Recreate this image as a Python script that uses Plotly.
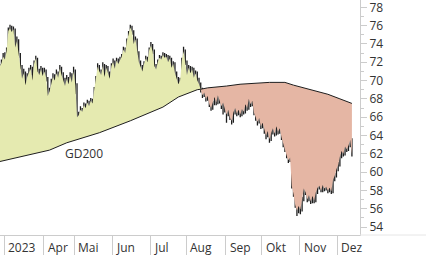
import plotly.graph_objects as go

# ---- data (trading-day index, Feb 24 2023 = -1 ... mid Dec 2023 = 204) ----
open_ = [71.0,71.5,71.9,72.6,72.3,73.2,75.4,75.7,75.3,75.6,73.6,74.3,72.8,71.5,70.2,70.8,69.5,70.4,70.9,71.3,70.0,
71.8,72.4,71.0,70.6,71.2,70.5,71.0,70.3,68.3,68.8,69.8,70.4,70.0,70.8,70.3,71.3,70.6,70.0,69.4,70.2,
69.6,70.5,69.8,71.0,69.5,66.0,66.2,66.8,66.6,67.3,67.0,67.6,67.2,67.8,67.5,69.0,70.2,71.5,71.0,70.6,
71.6,70.4,71.4,70.8,70.2,71.6,72.0,71.3,72.2,71.8,72.3,72.6,73.4,73.0,74.3,75.0,75.8,75.3,74.0,74.5,
73.0,72.0,71.5,71.0,71.8,72.4,72.0,73.3,73.8,73.2,71.6,71.2,72.0,72.5,72.3,72.8,72.5,72.6,72.0,72.4,
71.4,71.8,70.8,70.2,69.6,70.0,72.2,73.2,72.0,70.6,71.4,70.8,71.2,70.3,70.8,70.0,69.6,69.0,68.4,68.7,
68.0,68.3,67.4,67.0,67.5,68.2,67.6,68.4,67.8,67.2,67.6,66.8,66.3,66.8,66.0,65.6,66.5,67.0,66.4,66.8,
66.3,66.9,66.6,67.4,67.0,68.0,67.4,67.8,66.5,66.0,65.5,65.9,65.0,65.4,64.5,64.0,64.5,63.6,64.3,64.8,
64.2,65.0,64.4,64.8,63.8,63.0,62.5,61.8,61.3,61.6,58.5,57.6,56.4,55.8,56.3,55.9,57.0,58.2,57.8,57.0,
57.5,56.8,57.4,56.9,57.8,58.3,58.5,58.0,58.6,58.2,58.4,58.0,58.3,57.9,59.2,59.6,60.3,60.8,61.7,62.3,
62.0,62.8,62.5,62.9,63.5]
high = [71.8,72.3,73.0,73.1,73.6,75.8,76.1,76.0,75.9,75.7,74.8,74.5,73.0,71.7,71.3,71.0,70.8,71.4,71.7,71.5,72.2,
72.7,72.5,71.3,71.6,71.4,71.4,71.2,70.4,69.2,70.2,70.8,70.7,71.2,71.0,71.7,71.5,70.9,70.3,70.6,70.4,
70.9,70.8,71.5,71.2,69.7,66.6,67.2,67.0,67.6,67.5,67.9,67.8,68.1,68.0,69.3,70.5,71.9,71.7,71.2,72.0,
71.8,71.7,71.6,71.0,71.9,72.4,72.2,72.5,72.4,72.6,72.9,73.7,73.6,74.6,75.4,76.1,76.0,75.5,74.8,74.6,
73.2,72.2,71.7,72.1,72.7,72.6,73.6,74.2,74.0,73.4,71.8,72.3,72.8,72.7,73.1,73.0,72.9,72.8,72.7,72.5,
72.1,72.0,71.0,70.4,70.3,72.5,73.7,73.4,72.2,71.7,71.6,71.5,71.4,71.1,71.0,70.3,69.8,69.2,69.0,68.9,
68.6,68.5,67.6,67.8,68.5,68.4,68.7,68.6,68.0,67.9,67.8,67.0,67.1,67.0,66.2,66.8,67.3,67.2,67.1,69.6,
67.2,67.1,67.7,67.6,68.4,68.2,68.1,68.0,66.7,66.2,66.2,66.1,65.7,65.6,64.7,64.8,64.7,64.6,65.1,65.0,
65.3,65.2,65.1,65.0,64.0,63.2,62.7,62.0,61.9,61.7,58.7,57.8,56.6,56.6,56.5,57.3,58.5,58.4,58.0,57.8,
57.7,57.7,57.6,58.1,58.6,58.8,58.7,58.9,58.8,58.7,58.6,58.6,58.5,59.5,59.9,60.6,61.1,62.0,62.6,62.5,
63.1,63.0,63.2,64.3,63.7]
low = [70.8,71.2,71.7,71.9,72.0,73.0,75.0,74.9,75.0,73.3,73.4,72.5,71.2,69.8,69.9,67.1,69.2,70.1,70.6,67.9,69.8,
71.5,70.7,70.2,70.4,70.1,70.2,69.9,67.8,68.0,68.6,69.5,69.7,69.8,69.9,70.0,70.2,68.2,69.0,69.2,68.4,
69.4,69.5,69.6,68.5,64.8,65.6,66.0,66.2,66.4,66.7,66.8,66.9,67.0,67.2,67.4,68.8,70.0,70.6,70.2,70.4,
69.6,70.2,70.4,69.7,70.0,71.3,71.0,71.1,71.5,71.6,72.1,72.4,72.7,72.8,74.0,74.8,75.0,73.7,73.8,72.7,
71.7,70.6,70.6,70.8,71.6,71.7,71.8,73.1,72.9,71.2,70.6,71.0,71.8,71.9,72.1,72.2,72.2,71.7,71.8,71.1,
71.2,70.5,69.6,69.3,69.1,69.8,72.0,71.7,70.3,70.4,70.5,70.6,70.0,70.1,69.7,69.3,68.7,68.1,68.2,67.7,
67.8,67.1,66.7,66.8,67.3,67.3,67.4,67.5,66.9,66.3,66.5,65.4,66.1,65.7,65.2,65.4,66.3,66.1,66.2,66.0,
66.1,66.3,66.4,66.7,66.8,67.1,67.2,66.2,65.6,65.1,65.3,64.7,64.8,64.2,63.6,63.8,63.2,63.4,64.1,63.9,
64.0,64.1,64.2,63.5,62.7,62.2,61.5,61.0,61.1,58.2,57.3,56.1,55.2,55.5,55.4,55.7,56.8,57.5,56.7,56.8,
56.5,56.6,56.6,56.7,57.6,58.1,57.8,57.8,57.9,58.0,57.7,57.8,57.6,57.7,59.0,59.4,60.1,60.6,61.5,61.7,
61.8,62.2,62.3,62.7,61.7]
close = [71.5,71.9,72.6,72.3,73.2,75.4,75.7,75.3,75.6,73.6,74.3,72.8,71.5,70.2,70.8,69.5,70.4,70.9,71.3,70.0,71.8,
72.4,71.0,70.6,71.2,70.5,71.0,70.3,68.3,68.8,69.8,70.4,70.0,70.8,70.3,71.3,70.6,70.0,69.4,70.2,69.6,
70.5,69.8,71.0,69.5,66.0,66.2,66.8,66.6,67.3,67.0,67.6,67.2,67.8,67.5,69.0,70.2,71.5,71.0,70.6,71.6,
70.4,71.4,70.8,70.2,71.6,72.0,71.3,72.2,71.8,72.3,72.6,73.4,73.0,74.3,75.0,75.8,75.3,74.0,74.5,73.0,
72.0,71.5,71.0,71.8,72.4,72.0,73.3,73.8,73.2,71.6,71.2,72.0,72.5,72.3,72.8,72.5,72.6,72.0,72.4,71.4,
71.8,70.8,70.2,69.6,70.0,72.2,73.2,72.0,70.6,71.4,70.8,71.2,70.3,70.8,70.0,69.6,69.0,68.4,68.7,68.0,
68.3,67.4,67.0,67.5,68.2,67.6,68.4,67.8,67.2,67.6,66.8,66.3,66.8,66.0,65.6,66.5,67.0,66.4,66.8,66.3,
66.9,66.6,67.4,67.0,68.0,67.4,67.8,66.5,66.0,65.5,65.9,65.0,65.4,64.5,64.0,64.5,63.6,64.3,64.8,64.2,
65.0,64.4,64.8,63.8,63.0,62.5,61.8,61.3,61.6,58.5,57.6,56.4,55.8,56.3,55.9,57.0,58.2,57.8,57.0,57.5,
56.8,57.4,56.9,57.8,58.3,58.5,58.0,58.6,58.2,58.4,58.0,58.3,57.9,59.2,59.6,60.3,60.8,61.7,62.3,62.0,
62.8,62.5,62.9,63.5,62.0]
first_day = -1
cross_day = 116  # price crosses below the GD200 here

# GD200 (200-day average) read at several days
gd_day = [-1, 28, 38, 57, 75, 94, 103, 114, 116, 120, 131, 139, 156, 165, 170, 180, 190, 197, 204]
gd_val = [61.15, 62.4, 63.2, 64.3, 65.6, 67.1, 68.2, 69.0, 69.05, 69.2, 69.4, 69.6, 69.8, 69.8, 69.5, 69.0, 68.5, 68.0, 67.5]

# month boundaries (trading-day index of first day of month) and labels
month_start = [2, 25, 43, 65, 87, 108, 131, 152, 174, 196]
month_text = ["2023", "Apr", "Mai", "Jun", "Jul", "Aug", "Sep", "Okt", "Nov", "Dez"]

GREEN = "#e5eab0"
SALMON = "#e5b6a4"
INK = "#1e1e1e"
AXIS = "#cccccc"
FONT = "Open Sans, Noto Sans, sans-serif"

days = list(range(first_day, first_day + len(close)))

fig = go.Figure()

# green fill (price above GD200)
gx_a = [d for d in gd_day if d <= cross_day]
gy_a = [v for d, v in zip(gd_day, gd_val) if d <= cross_day]
px_a = [d for d in days if d <= cross_day]
py_a = [c for d, c in zip(days, close) if d <= cross_day]
fig.add_trace(go.Scatter(x=gx_a, y=gy_a, mode="lines", line=dict(width=0), showlegend=False, hoverinfo="skip"))
fig.add_trace(go.Scatter(x=px_a, y=py_a, mode="lines", line=dict(width=0), fill="tonexty",
                         fillcolor=GREEN, showlegend=False, hoverinfo="skip"))

# salmon fill (price below GD200)
gx_b = [d for d in gd_day if d >= cross_day]
gy_b = [v for d, v in zip(gd_day, gd_val) if d >= cross_day]
px_b = [d for d in days if d >= cross_day]
py_b = [c for d, c in zip(days, close) if d >= cross_day]
fig.add_trace(go.Scatter(x=gx_b, y=gy_b, mode="lines", line=dict(width=0), showlegend=False, hoverinfo="skip"))
fig.add_trace(go.Scatter(x=px_b, y=py_b, mode="lines", line=dict(width=0), fill="tonexty",
                         fillcolor=SALMON, showlegend=False, hoverinfo="skip"))

# GD200 line
fig.add_trace(go.Scatter(x=gd_day, y=gd_val, mode="lines", line=dict(color=INK, width=1),
                         showlegend=False, hoverinfo="skip"))

# OHLC bars
fig.add_trace(go.Ohlc(x=days, open=open_, high=high, low=low, close=close,
                      increasing=dict(line=dict(color=INK, width=1.3)),
                      decreasing=dict(line=dict(color=INK, width=1.3)),
                      tickwidth=0.35, showlegend=False, hoverinfo="skip"))

# month labels
for d, t in zip(month_start, month_text):
    fig.add_annotation(x=d - 0.5, xref="x", y=0, yref="paper", text=t, showarrow=False,
                       xanchor="left", yanchor="middle", xshift=2, yshift=-12,
                       font=dict(family=FONT, size=12, color="#333333"))

fig.add_annotation(x=47.8, xref="x", y=62.0, yref="y", text="GD200", showarrow=False,
                   xanchor="center", yanchor="middle",
                   font=dict(family=FONT, size=12, color="#333333"))

# extension of bottom axis line under the price scale
fig.add_shape(type="line", xref="paper", yref="paper", x0=1, x1=1.2, y0=0, y1=0,
              line=dict(color="#e6e6e6", width=1))

fig.update_layout(
    width=426, height=255,
    margin=dict(l=0, r=66, t=0, b=20),
    paper_bgcolor="white", plot_bgcolor="white",
    showlegend=False,
    xaxis=dict(range=[-0.83, 208.7], rangeslider=dict(visible=False),
               tickmode="array", tickvals=[d - 0.5 for d in month_start], ticktext=[""] * len(month_start),
               ticks="outside", ticklen=20, tickcolor=AXIS, tickwidth=1,
               showline=True, linecolor=AXIS, linewidth=1, showgrid=False, zeroline=False,
               fixedrange=True),
    yaxis=dict(side="right", range=[53.126, 78.80], tickmode="linear", tick0=54, dtick=2,
               ticks="outside", ticklen=6, tickcolor=AXIS, tickwidth=1,
               minor=dict(ticks="outside", ticklen=3, tickcolor=AXIS, dtick=1, tick0=53, showgrid=False),
               showline=True, linecolor=AXIS, linewidth=1, showgrid=False, zeroline=False,
               ticklabeloverflow="allow",
               tickfont=dict(family=FONT, size=12, color="#333333"), fixedrange=True),
)

fig.write_html("out.html")
